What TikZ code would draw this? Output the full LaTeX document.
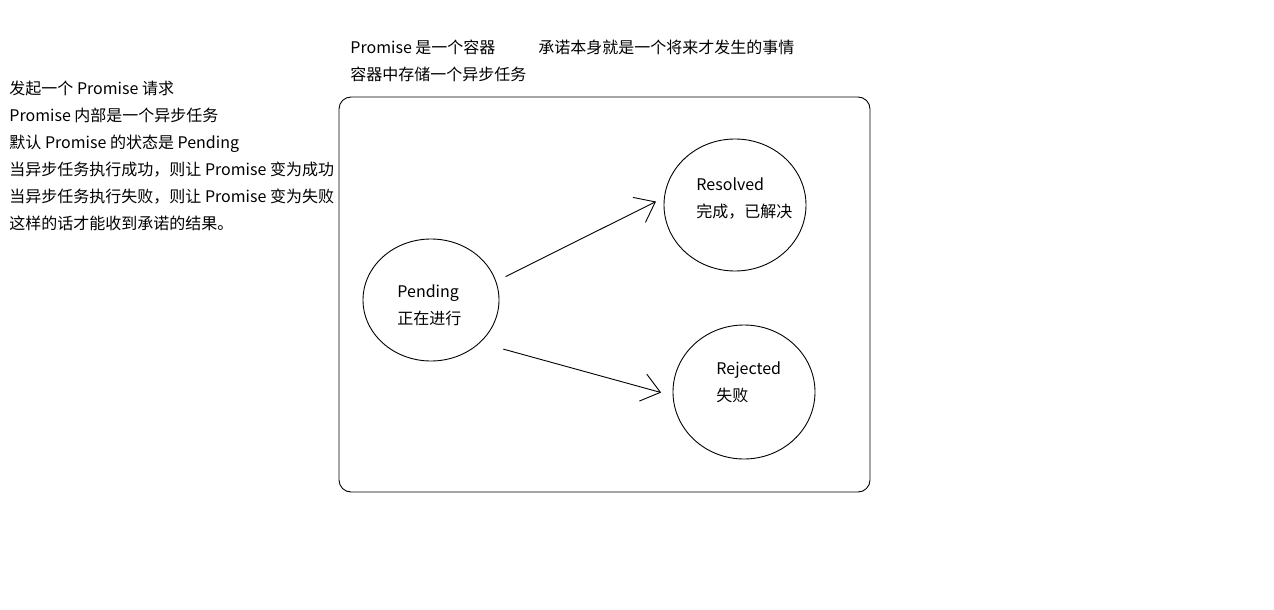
\documentclass[tikz,border=0pt]{standalone}
\usepackage{fontspec}
\setmainfont{Noto Sans CJK SC}
\usetikzlibrary{arrows.meta,positioning,calc,shapes.geometric}

\begin{document}
\begin{tikzpicture}[
    x=1pt, y=-1pt,
    line width=0.9pt,
    >={Straight Barb[length=18pt,width=28pt]},
    txt/.style={anchor=west, inner sep=0pt, font=\fontsize{16}{20}\selectfont,
                text height=14pt, text depth=2pt},
    state/.style={draw, ellipse, inner sep=0pt},
]
\fill[white] (0,0) rectangle (1274,610);
\useasboundingbox (0,0) rectangle (1274,610);

% notes on the left
\foreach \t [count=\i from 0] in {发起一个 Promise 请求, Promise 内部是一个异步任务,
    默认 Promise 的状态是 Pending, 当异步任务执行成功，则让 Promise 变为成功,
    当异步任务执行失败，则让 Promise 变为失败, 这样的话才能收到承诺的结果。}
    \node[txt] (note\i) at (9,{88+27*\i}) {\t};

% container
\node[draw, rounded corners=12pt, minimum width=531pt, minimum height=395pt] (cont) at (604.5,294.5) {};
\node[txt] (cap1) at (350,48) {Promise 是一个容器};
\node[txt] (cap2) at (538,48) {承诺本身就是一个将来才发生的事情};
\node[txt] (cap3) at (350,75) {容器中存储一个异步任务};

% states
\node[state, minimum width=136pt, minimum height=122pt] (pend) at (431,300) {};
\node[txt] (pendA) at ($(pend)+(-34,-9)$) {Pending};
\node[txt] (pendB) at ($(pend)+(-34,18)$) {正在进行};

\node[state, minimum width=142pt, minimum height=132pt] (res) at (735,205) {};
\node[txt] (resA) at ($(res)+(-39,-21)$) {Resolved};
\node[txt] (resB) at ($(res)+(-39,6)$) {完成，已解决};

\node[state, minimum width=142pt, minimum height=134pt] (rej) at (744,392) {};
\node[txt] (rejA) at ($(rej)+(-28,-24)$) {Rejected};
\node[txt] (rejB) at ($(rej)+(-28,3)$) {失败};

% transitions
\draw[->, shorten <=10.5pt, shorten >=9pt] (pend.16) -- (res.174);
\draw[->, shorten <=24pt, shorten >=12pt] (pend.-41) -- (rej.183);

\end{tikzpicture}
\end{document}
